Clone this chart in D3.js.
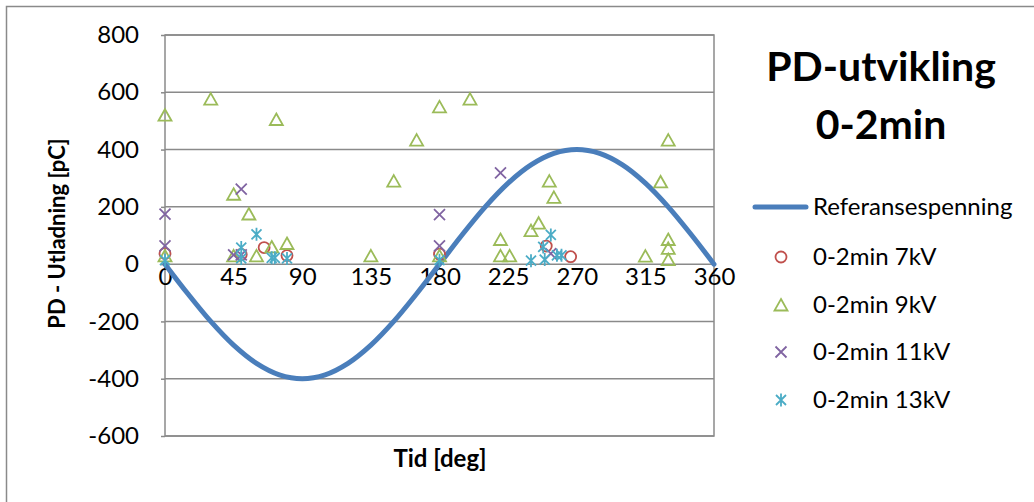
<!DOCTYPE html>
<html>
<head>
<meta charset="utf-8">
<script src="https://cdn.jsdelivr.net/npm/d3@7"></script>
<style>
  body { margin: 0; background: #fff; }
  svg { display: block; font-family: Lato, "Open Sans", sans-serif; }
</style>
</head>
<body>
<div id="chart"></div>
<script>
/* x ticks (degrees) and y ticks (pC) */
var xTicks = [0, 45, 90, 135, 180, 225, 270, 315, 360];
var yTicks = [-600, -400, -200, 0, 200, 400, 600, 800];

/* reference voltage, read every 15 degrees */
var refDeg = [0, 15, 30, 45, 60, 75, 90, 105, 120, 135, 150, 165, 180,
  195, 210, 225, 240, 255, 270, 285, 300, 315, 330, 345, 360];
var refVal = [0, -103.5, -200, -282.8, -346.4, -386.4, -400, -386.4, -346.4, -282.8, -200, -103.5, 0,
  103.5, 200, 282.8, 346.4, 386.4, 400, 386.4, 346.4, 282.8, 200, 103.5, 0];

/* discharge points [deg, pC] */
var kv7 = [[0, 37], [50, 34], [65, 58], [80, 30], [180, 35], [250, 63], [266, 26]];
var kv9 = [[0, 520], [0, 29], [30, 576], [45, 244], [45, 29], [55, 175], [60, 29], [70, 60],
  [73, 505], [80, 72], [135, 29], [150, 290], [165, 433], [180, 549], [180, 29], [200, 576],
  [220, 86], [220, 29], [226, 29], [240, 117], [245, 143], [252, 290], [255, 233], [315, 28],
  [325, 287], [330, 433], [330, 86], [330, 55], [330, 16]];
var kv11 = [[0, 175], [0, 64], [45, 32], [50, 262], [50, 32], [180, 173], [180, 64], [220, 319], [253, 37]];
var kv13 = [[0, 14], [50, 58], [50, 20], [60, 104], [70, 22], [72, 22], [80, 20], [180, 14],
  [240, 12], [248, 60], [249, 16], [253, 102], [257, 31], [260, 31]];

var legendNames = ["Referansespenning", "0-2min 7kV", "0-2min 9kV", "0-2min 11kV", "0-2min 13kV"];

var colors = {line: "#4a7ebb", red: "#c0504d", green: "#9bbb59", purple: "#8064a2", teal: "#4bacc6", grid: "#8a8a8a"};

var width = 1034, height = 502;
var plot = {left: 165, right: 714, top: 35, bottom: 436};

var svg = d3.select("#chart").append("svg")
    .attr("width", width)
    .attr("height", height);

/* outer chart border */
svg.append("rect")
    .attr("x", 6.5).attr("y", 6.5)
    .attr("width", 1100).attr("height", 600)
    .attr("fill", "#fff")
    .attr("stroke", colors.grid)
    .attr("stroke-width", 1.5);

var x = d3.scaleLinear().domain([0, 360]).range([plot.left, plot.right]);
var y = d3.scaleLinear().domain([-600, 800]).range([plot.bottom, plot.top]);

/* plain hyphen for negatives, like the original */
var plain = function (d) { return String(d); };

/* horizontal gridlines */
svg.append("g").selectAll("line")
    .data(yTicks)
    .enter().append("line")
    .attr("x1", plot.left).attr("x2", plot.right)
    .attr("y1", function (d) { return y(d); })
    .attr("y2", function (d) { return y(d); })
    .attr("stroke", colors.grid)
    .attr("stroke-width", 1.5);

/* plot border */
svg.append("rect")
    .attr("x", plot.left).attr("y", plot.top)
    .attr("width", plot.right - plot.left)
    .attr("height", plot.bottom - plot.top)
    .attr("fill", "none")
    .attr("stroke", colors.grid)
    .attr("stroke-width", 1.5);

/* y axis: ticks and labels */
var yAxis = svg.append("g")
    .attr("transform", "translate(" + plot.left + ",0)")
    .call(d3.axisLeft(y).tickValues(yTicks).tickFormat(plain).tickSize(4).tickPadding(22));
yAxis.select(".domain").remove();
yAxis.selectAll("line").attr("stroke", colors.grid).attr("stroke-width", 1.5);
yAxis.selectAll("text")
    .attr("font-size", 24)
    .attr("font-family", "Lato, sans-serif")
    .attr("fill", "#000");

/* x axis sits on y = 0 */
var xAxis = svg.append("g")
    .attr("transform", "translate(0," + y(0) + ")")
    .call(d3.axisBottom(x).tickValues(xTicks).tickFormat(plain).tickSize(0).tickPadding(4));
xAxis.select(".domain").remove();
xAxis.selectAll("text")
    .attr("font-size", 24)
    .attr("font-family", "Lato, sans-serif")
    .attr("fill", "#000");

/* reference sine */
var refData = refDeg.map(function (d, i) { return [d, refVal[i]]; });
var line = d3.line()
    .x(function (d) { return x(d[0]); })
    .y(function (d) { return y(d[1]); })
    .curve(d3.curveCatmullRom);
svg.append("path")
    .datum(refData)
    .attr("d", line)
    .attr("fill", "none")
    .attr("stroke", colors.line)
    .attr("stroke-width", 5)
    .attr("stroke-linecap", "round");

/* marker shapes */
function circleMark(g, color) {
  g.append("circle").attr("r", 5.5)
      .attr("fill", "none").attr("stroke", color).attr("stroke-width", 1.8);
}
function triangleMark(g, color) {
  g.append("path").attr("d", "M0,-6L6.5,5.5L-6.5,5.5Z")
      .attr("fill", "none").attr("stroke", color).attr("stroke-width", 1.8);
}
function crossMark(g, color) {
  g.append("path").attr("d", "M-5.5,-5.5L5.5,5.5M-5.5,5.5L5.5,-5.5")
      .attr("fill", "none").attr("stroke", color).attr("stroke-width", 1.8);
}
function starMark(g, color) {
  g.append("path").attr("d", "M-5,-5L5,5M-5,5L5,-5M0,-6.5L0,6.5")
      .attr("fill", "none").attr("stroke", color).attr("stroke-width", 1.8);
}

var series = [
  {data: kv7, mark: circleMark, color: colors.red},
  {data: kv9, mark: triangleMark, color: colors.green},
  {data: kv11, mark: crossMark, color: colors.purple},
  {data: kv13, mark: starMark, color: colors.teal}
];

series.forEach(function (s) {
  svg.append("g").selectAll("g")
      .data(s.data)
      .enter().append("g")
      .attr("transform", function (d) { return "translate(" + x(d[0]) + "," + y(d[1]) + ")"; })
      .each(function () { s.mark(d3.select(this), s.color); });
});

/* axis titles */
svg.append("text")
    .attr("transform", "translate(65," + ((plot.top + plot.bottom) / 2 - 2) + ") rotate(-90)")
    .attr("text-anchor", "middle")
    .attr("font-size", 22)
    .attr("font-weight", "bold")
    .text("PD - Utladning [pC]");
svg.append("text")
    .attr("x", 440).attr("y", 467)
    .attr("text-anchor", "middle")
    .attr("font-size", 24)
    .attr("font-weight", "bold")
    .text("Tid [deg]");

/* chart title */
var title = svg.append("text")
    .attr("text-anchor", "middle")
    .attr("font-size", 41)
    .attr("font-weight", "bold");
title.append("tspan").attr("x", 881).attr("y", 81).text("PD-utvikling");
title.append("tspan").attr("x", 881).attr("y", 139).text("0-2min");

/* legend */
var legendY = [207, 257, 305, 352, 400];
var legend = svg.append("g");
legend.append("line")
    .attr("x1", 755).attr("x2", 806)
    .attr("y1", legendY[0]).attr("y2", legendY[0])
    .attr("stroke", colors.line)
    .attr("stroke-width", 5)
    .attr("stroke-linecap", "round");
series.forEach(function (s, i) {
  var g = legend.append("g")
      .attr("transform", "translate(781," + legendY[i + 1] + ")");
  s.mark(g, s.color);
});
legend.selectAll("text")
    .data(legendNames)
    .enter().append("text")
    .attr("x", 813)
    .attr("y", function (d, i) { return legendY[i]; })
    .attr("dy", "0.35em")
    .attr("font-size", 24)
    .text(function (d) { return d; });
</script>
</body>
</html>
